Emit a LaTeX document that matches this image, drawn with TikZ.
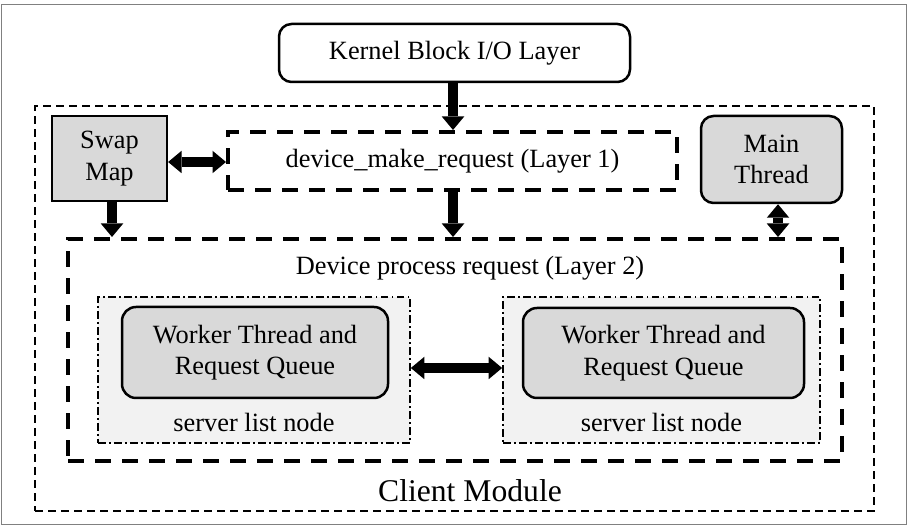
\documentclass[tikz,border=0pt]{standalone}
\usepackage{fontspec}
\setmainfont{Liberation Serif}
\usetikzlibrary{arrows.meta}

\definecolor{boxgray}{RGB}{217,217,217}
\definecolor{listgray}{RGB}{242,242,242}

\tikzset{
  bigtip/.tip={Triangle[length=0.27cm,width=0.45cm,line width=0pt]},
  flowarrow/.style={line width=0.2cm,-bigtip},
  botharrow/.style={line width=0.2cm,bigtip-bigtip},
  modulebox/.style={draw,line width=0.04cm,dash pattern=on 0.16cm off 0.10cm,inner sep=0pt},
  layerbox/.style={draw,line width=0.08cm,dash pattern=on 0.32cm off 0.22cm,inner sep=0pt},
  listbox/.style={draw,fill=listgray,line width=0.035cm,dash pattern=on 0.15cm off 0.07cm on 0.03cm off 0.07cm,inner sep=0pt},
  roundbox/.style={draw,line width=0.05cm,rounded corners=0.25cm,inner sep=0pt,align=center},
  squarebox/.style={draw,fill=boxgray,line width=0.045cm,inner sep=0pt,align=center}
}

\begin{document}
\begin{tikzpicture}
            \useasboundingbox (0.000000,0.000000) rectangle (18.140000,10.520000);
            {\fontsize{15}{18}\selectfont

            % Thin frame round the whole figure
            \draw [gray,line width=0.02cm] (0.040000,0.020000) rectangle (18.120000,10.420000);%

            % Client module and its two layers
            \node [modulebox,minimum width=16.780000cm,minimum height=8.100000cm] (client) at (9.090000,4.350000) {};%
            \node [layerbox,minimum width=8.980000cm,minimum height=1.160000cm] (layerone) at (9.050000,7.300000) {device\_make\_request (Layer 1)};%
            \node [layerbox,minimum width=15.480000cm,minimum height=4.440000cm] (layertwo) at (9.100000,3.520000) {};%
            \node (layertwolabel) at (9.400000,5.160000) {Device process request (Layer 2)};%
            \node [font=\fontsize{18}{21}\selectfont] (clientlabel) at (9.400000,0.700000) {Client Module};%

            % Kernel block layer on top
            \node [roundbox,minimum width=7.020000cm,minimum height=1.160000cm] (kernel) at (9.090000,9.460000) {Kernel Block I/O Layer};%

            % Swap map and main thread
            \node [squarebox,minimum width=2.300000cm,minimum height=1.700000cm] (swapmap) at (2.190000,7.350000) {Swap\\Map};%
            \node [roundbox,fill=boxgray,minimum width=2.820000cm,minimum height=1.740000cm] (mainthread) at (15.430000,7.330000) {Main\\Thread};%

            % Server list nodes with their worker threads
            \node [listbox,minimum width=6.240000cm,minimum height=2.920000cm] (listleft) at (5.080000,3.120000) {};%
            \node [listbox,minimum width=6.340000cm,minimum height=2.920000cm] (listright) at (13.230000,3.120000) {};%
            \node [roundbox,fill=boxgray,rounded corners=0.28cm,minimum width=5.320000cm,minimum height=1.820000cm] (workerleft) at (5.100000,3.470000) {Worker Thread and\\Request Queue};%
            \node [roundbox,fill=boxgray,rounded corners=0.28cm,minimum width=5.620000cm,minimum height=1.800000cm] (workerright) at (13.270000,3.460000) {Worker Thread and\\Request Queue};%
            \node (listleftlabel) at (5.080000,2.080000) {server list node};%
            \node (listrightlabel) at (13.230000,2.080000) {server list node};%

            % Arrows between the blocks
            \draw [flowarrow] ([xshift=-0.030000cm]kernel.south) -- ([xshift=-0.030000cm]kernel.south |- layerone.north);%
            \draw [flowarrow] ([xshift=0.010000cm]layerone.south) -- ([xshift=0.010000cm]layerone.south |- layertwo.north);%
            \draw [flowarrow] ([xshift=0.050000cm]swapmap.south) -- ([xshift=0.050000cm]swapmap.south |- layertwo.north);%
            \draw [botharrow] ([yshift=-0.070000cm]swapmap.east) -- ([yshift=-0.070000cm]swapmap.east -| layerone.west);%
            \draw [botharrow] ([xshift=0.130000cm]mainthread.south) -- ([xshift=0.130000cm]mainthread.south |- layertwo.north);%
            \draw [botharrow] ([yshift=0.040000cm]listleft.east) -- ([yshift=0.040000cm]listleft.east -| listright.west);%
            }
        \end{tikzpicture}
\end{document}
